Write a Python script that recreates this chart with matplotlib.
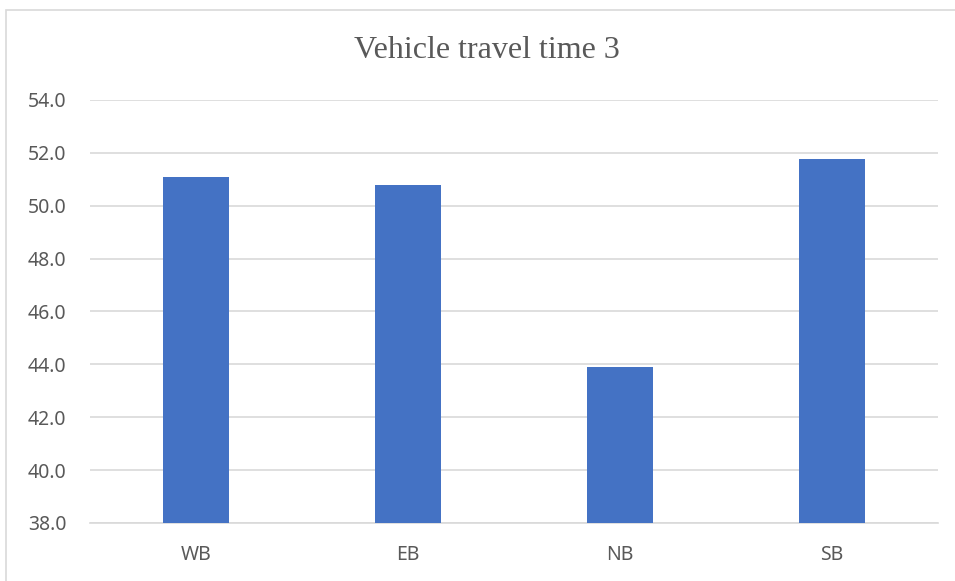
import matplotlib
matplotlib.use("Agg")
import matplotlib.pyplot as plt
from matplotlib.patches import Rectangle

directions = ["WB", "EB", "NB", "SB"]
travel_time = [51.08, 50.79, 43.90, 51.77]
y_ticks = [38.0, 40.0, 42.0, 44.0, 46.0, 48.0, 50.0, 52.0, 54.0]

bar_color = "#4472C4"
grid_color = "#D9D9D9"
text_color = "#595959"

fig = plt.figure(figsize=(9.55, 5.81), dpi=100)
fig.patch.set_facecolor("white")

# chart border (runs off the right and bottom edges)
fig.patches.append(Rectangle((6 / 955, -0.1), 1.1, 1 - 9.5 / 581 + 0.1,
                             transform=fig.transFigure, fill=False,
                             edgecolor=grid_color, linewidth=1.2))

ax = fig.add_axes([90 / 955, 1 - 523 / 581, (938 - 90) / 955, (523 - 100) / 581])
x = range(len(directions))
ax.bar(x, [v - y_ticks[0] for v in travel_time], bottom=y_ticks[0],
       width=0.316, color=bar_color, zorder=3)

ax.set_xlim(-0.5, len(directions) - 0.5)
ax.set_ylim(y_ticks[0], y_ticks[-1])
ax.set_yticks(y_ticks)
ax.set_yticklabels([f"{t:.1f}" for t in y_ticks])
ax.set_xticks(list(x))
ax.set_xticklabels(directions)

ax.yaxis.grid(True, color=grid_color, linewidth=1.2, zorder=0)
ax.set_axisbelow(True)
for side in ["top", "right", "left"]:
    ax.spines[side].set_visible(False)
ax.spines["bottom"].set_color(grid_color)
ax.spines["bottom"].set_linewidth(1.2)

ax.tick_params(axis="both", length=0, colors=text_color, labelsize=14)
ax.tick_params(axis="y", pad=17)
ax.tick_params(axis="x", pad=16)
for lbl in ax.get_xticklabels() + ax.get_yticklabels():
    lbl.set_fontfamily("Noto Sans")

fig.text(487 / 955, 1 - 50 / 581, "Vehicle travel time 3", ha="center", va="center",
         fontsize=23, color=text_color, family="Liberation Serif")

fig.savefig("out.png", dpi=100, facecolor="white")
